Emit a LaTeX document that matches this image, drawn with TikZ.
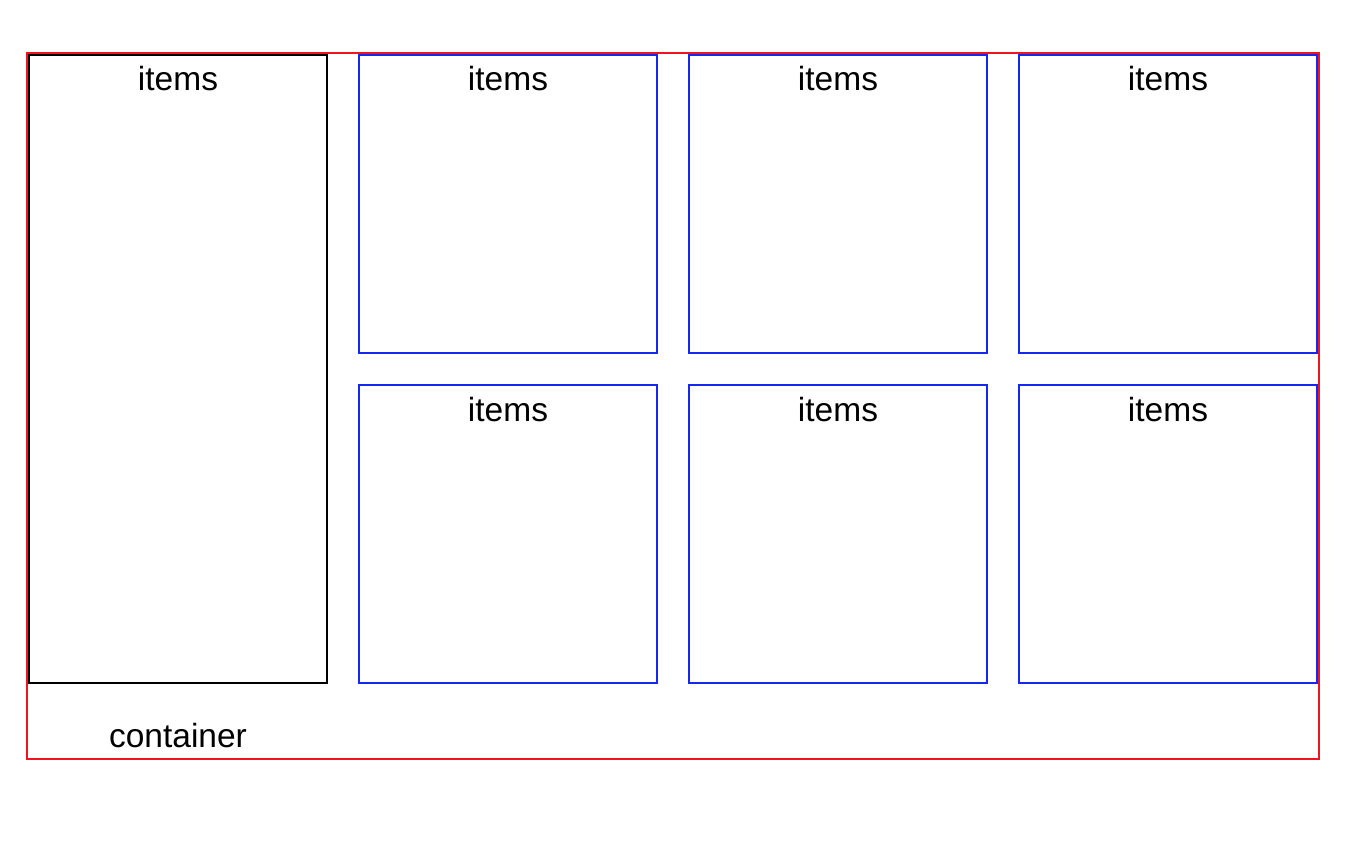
\documentclass[tikz,border=0pt]{standalone}
\usepackage{fontspec}
\setmainfont{Liberation Sans}
\begin{document}
\begin{tikzpicture}[x=1pt,y=-1pt,
  box/.style={draw, line width=2pt, inner sep=0pt, outer sep=0pt, minimum width=298pt, minimum height=298pt},
  bluebox/.style={box, draw={rgb,255:red,20;green,40;blue,240}},
  lbl/.style={anchor=base, inner sep=0pt, font=\fontsize{33.5pt}{40pt}\selectfont}]
\useasboundingbox (0,0) rectangle (1360,842);
\node[draw={rgb,255:red,240;green,20;blue,30}, line width=2pt, inner sep=0pt, outer sep=0pt, minimum width=1292pt, minimum height=706pt] (container) at (673,406) {};
\node[box, minimum height=628pt] (b0) at (178,369) {};
\node[bluebox] (b1) at (508,204) {};
\node[bluebox] (b2) at (838,204) {};
\node[bluebox] (b3) at (1168,204) {};
\node[bluebox] (b4) at (508,534) {};
\node[bluebox] (b5) at (838,534) {};
\node[bluebox] (b6) at (1168,534) {};
\node[lbl] (t0) at (178,91) {items};
\node[lbl] (t1) at (508,91) {items};
\node[lbl] (t2) at (838,91) {items};
\node[lbl] (t3) at (1168,91) {items};
\node[lbl] (t4) at (508,421) {items};
\node[lbl] (t5) at (838,421) {items};
\node[lbl] (t6) at (1168,421) {items};
\node[lbl] (tc) at (178,747) {container};
\end{tikzpicture}
\end{document}
